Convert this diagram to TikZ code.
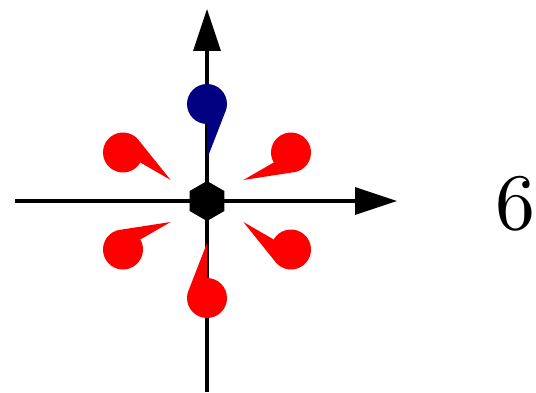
\documentclass[tikz,border=0pt]{standalone}
\usetikzlibrary{arrows.meta,shapes.geometric}
\definecolor{spinblue}{RGB}{0,0,128}
\definecolor{spinred}{RGB}{255,0,0}
\begin{document}
\begin{tikzpicture}[x=1pt,y=1pt,
  axis/.style={line width=3.5pt,-{Triangle[length=42pt,width=27pt]}},
  hexnode/.style={regular polygon,regular polygon sides=6,shape border rotate=30,
    minimum size=40pt,inner sep=0pt,fill=black,draw=none},
  lbl/.style={font=\fontsize{10}{12}\selectfont,inner sep=0pt,scale=8}]
\useasboundingbox (0,0) rectangle (536,392);
\coordinate (O) at (207,191);
\coordinate (xl) at (15,191);
\coordinate (xr) at (397,191);
\coordinate (yb) at (207,0);
\coordinate (yt) at (207,383);
\draw[axis] (xl) -- (xr);
\draw[axis] (yb) -- (yt);
\node[hexnode] (hex) at (O) {};
\foreach \a/\c in {90/spinblue,30/spinred,150/spinred,210/spinred,270/spinred,330/spinred}{
  \begin{scope}[shift={(O)},rotate=\a]
    \coordinate (tip) at (42,0);
    \coordinate (ctr) at (97,0);
    \fill[\c] (tip) -- (77,0) -- (87.6,-17.7) -- cycle;
    \fill[\c] (ctr) circle[radius=20];
  \end{scope}
}
\node[lbl] (six) at (515,188) {6};
\end{tikzpicture}
\end{document}
